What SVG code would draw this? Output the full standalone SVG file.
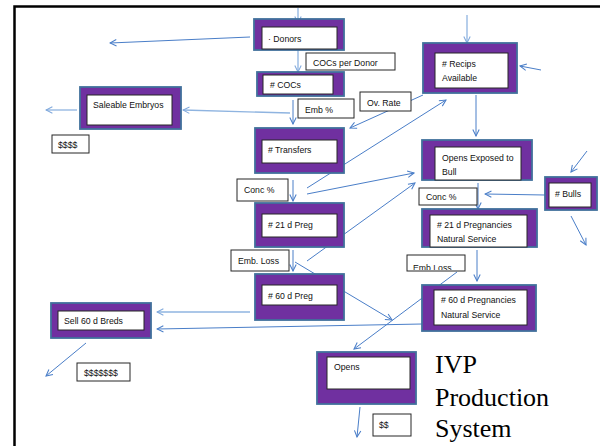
<svg xmlns="http://www.w3.org/2000/svg" width="600" height="446" viewBox="0 0 600 446">
  <defs>
    <style>
      .outer { fill: #7030A0; stroke: #41719C; stroke-width: 1.8; }
      .inner { fill: #FFFFFF; stroke: #262626; stroke-width: 1; }
      .lbl { fill: #FFFFFF; stroke: #262626; stroke-width: 1; }
      .t { font-family: "Liberation Sans", Arial, sans-serif; font-size: 8.7px; fill: #111111; }
      .title { font-family: "Liberation Serif", "Times New Roman", serif; font-size: 26px; fill: #000000; }
      .c { fill: none; stroke: #4A7EC8; stroke-width: 1; marker-end: url(#ah); }
      .cl { fill: none; stroke: #8FB4E0; stroke-width: 1.3; marker-end: url(#ahl); }
    </style>
    <marker id="ah" viewBox="0 0 10 10" refX="9" refY="5" markerWidth="8" markerHeight="8" markerUnits="userSpaceOnUse" orient="auto">
      <path d="M1,1 L9,5 L1,9" fill="none" stroke="#4A7EC8" stroke-width="1.3"/>
    </marker>
    <marker id="ahl" viewBox="0 0 10 10" refX="9" refY="5" markerWidth="8" markerHeight="8" markerUnits="userSpaceOnUse" orient="auto">
      <path d="M1,1 L9,5 L1,9" fill="none" stroke="#7FA8DC" stroke-width="1.3"/>
    </marker>
    <clipPath id="clipEmbLoss">
      <rect x="408" y="256" width="56" height="14"/>
    </clipPath>
  </defs>

  <!-- frame -->
  <rect x="14.5" y="6.5" width="600" height="460" fill="#FFFFFF" stroke="#000000" stroke-width="2.5"/>

  <!-- connectors -->
  <g id="connectors">
    <line class="cl" x1="298" y1="8" x2="298" y2="23"/>
    <line class="c" x1="250" y1="37" x2="110" y2="43"/>
    <line class="cl" x1="298" y1="50" x2="298" y2="72"/>
    <line class="cl" x1="290" y1="113" x2="183" y2="110"/>
    <line class="cl" x1="77" y1="110" x2="46" y2="110"/>
    <line class="c" x1="293" y1="100" x2="293" y2="124"/>
    <line class="c" x1="423" y1="95" x2="350" y2="128"/>
    <line class="c" x1="307" y1="188" x2="446" y2="100"/>
    <line class="c" x1="307" y1="194" x2="414" y2="173"/>
    <line class="c" x1="307" y1="261" x2="415" y2="183"/>
    <line class="c" x1="293" y1="180" x2="293" y2="201"/>
    <line class="c" x1="293" y1="250" x2="293" y2="271"/>
    <line class="c" x1="295" y1="262" x2="392" y2="320"/>
    <line class="c" x1="457" y1="272" x2="354" y2="349"/>
    <line class="cl" x1="250" y1="312" x2="157" y2="312"/>
    <line class="c" x1="422" y1="324" x2="157" y2="329"/>
    <line class="c" x1="86" y1="343" x2="46" y2="376"/>
    <line class="c" x1="360" y1="407" x2="357" y2="437"/>
    <line class="cl" x1="467" y1="15" x2="467" y2="43"/>
    <line class="c" x1="541" y1="70" x2="520" y2="66"/>
    <line class="c" x1="476" y1="95" x2="476" y2="136"/>
    <line class="c" x1="587" y1="151" x2="571" y2="172"/>
    <line class="c" x1="545" y1="195" x2="485" y2="194"/>
    <line class="c" x1="478" y1="183" x2="478" y2="209"/>
    <line class="c" x1="571" y1="216" x2="586" y2="245"/>
    <line class="c" x1="477" y1="250" x2="477" y2="281"/>
  </g>

  <!-- nodes -->
  <g id="donors">
    <rect class="outer" x="254" y="19" width="90" height="31"/>
    <rect class="inner" x="262" y="27" width="75" height="22"/>
    <text class="t" x="268" y="42">· Donors</text>
  </g>
  <g id="cocs">
    <rect class="outer" x="257" y="72" width="87" height="24"/>
    <rect class="inner" x="263" y="75" width="70" height="19"/>
    <text class="t" x="270" y="88">#  COCs</text>
  </g>
  <g id="transfers">
    <rect class="outer" x="255" y="128" width="89" height="45"/>
    <rect class="inner" x="262" y="140" width="75" height="23"/>
    <text class="t" x="268" y="153"># Transfers</text>
  </g>
  <g id="preg21">
    <rect class="outer" x="255" y="203" width="89" height="44"/>
    <rect class="inner" x="262" y="214" width="75" height="23"/>
    <text class="t" x="268" y="228"># 21 d Preg</text>
  </g>
  <g id="preg60">
    <rect class="outer" x="255" y="274" width="89" height="46"/>
    <rect class="inner" x="262" y="285" width="75" height="20"/>
    <text class="t" x="268" y="299"># 60 d Preg</text>
  </g>
  <g id="recips">
    <rect class="outer" x="423" y="43" width="94" height="50"/>
    <rect class="inner" x="435" y="53" width="73" height="35"/>
    <text class="t" x="442" y="67"># Recips</text>
    <text class="t" x="442" y="81">Available</text>
  </g>
  <g id="opens-exposed">
    <rect class="outer" x="422" y="140" width="110" height="40"/>
    <rect class="inner" x="435" y="147" width="86" height="33"/>
    <text class="t" x="442" y="161">Opens Exposed to</text>
    <text class="t" x="442" y="175">Bull</text>
  </g>
  <g id="bulls">
    <rect class="outer" x="545" y="177" width="52" height="33"/>
    <rect class="inner" x="549" y="183" width="42" height="24"/>
    <text class="t" x="555" y="197"># Bulls</text>
  </g>
  <g id="preg21-ns">
    <rect class="outer" x="422" y="209" width="115" height="38"/>
    <rect class="inner" x="430" y="215" width="97" height="32"/>
    <text class="t" x="437" y="228"># 21 d Pregnancies</text>
    <text class="t" x="437" y="242">Natural Service</text>
  </g>
  <g id="preg60-ns">
    <rect class="outer" x="422" y="285" width="114" height="46"/>
    <rect class="inner" x="434" y="290" width="93" height="35"/>
    <text class="t" x="441" y="303"># 60 d Pregnancies</text>
    <text class="t" x="441" y="318">Natural Service</text>
  </g>
  <g id="opens">
    <rect class="outer" x="317" y="352" width="99" height="52"/>
    <rect class="inner" x="327" y="357" width="83" height="32"/>
    <text class="t" x="334" y="370">Opens</text>
  </g>
  <g id="saleable-embryos">
    <rect class="outer" x="80" y="87" width="101" height="42"/>
    <rect class="inner" x="87" y="95" width="85" height="30"/>
    <text class="t" x="93" y="108">Saleable Embryos</text>
  </g>
  <g id="sell-breds">
    <rect class="outer" x="51" y="303" width="100" height="35"/>
    <rect class="inner" x="58" y="311" width="86" height="19"/>
    <text class="t" x="64" y="324">Sell 60 d Breds</text>
  </g>

  <!-- rate labels -->
  <g id="label-cocs-per-donor">
    <rect class="lbl" x="306" y="53" width="89" height="17"/>
    <text class="t" x="313" y="66">COCs per Donor</text>
  </g>
  <g id="label-emb-pct">
    <rect class="lbl" x="298" y="99" width="56" height="19"/>
    <text class="t" x="305" y="113">Emb %</text>
  </g>
  <g id="label-ov-rate">
    <rect class="lbl" x="360" y="92" width="51" height="19"/>
    <text class="t" x="367" y="106">Ov. Rate</text>
  </g>
  <g id="label-conc-left">
    <rect class="lbl" x="237" y="179" width="51" height="22"/>
    <text class="t" x="244" y="193">Conc %</text>
  </g>
  <g id="label-emb-loss-left">
    <rect class="lbl" x="231" y="250" width="58" height="21"/>
    <text class="t" x="238" y="264">Emb. Loss</text>
  </g>
  <g id="label-conc-right">
    <rect class="lbl" x="419" y="188" width="58" height="17"/>
    <text class="t" x="426" y="200">Conc %</text>
  </g>
  <g id="label-emb-loss-right">
    <rect class="lbl" x="407" y="255" width="58" height="16"/>
    <text class="t" x="413" y="271" clip-path="url(#clipEmbLoss)">Emb Loss</text>
  </g>
  <g id="label-4d">
    <rect class="lbl" x="52" y="135" width="37" height="18"/>
    <text class="t" x="58" y="148">$$$$</text>
  </g>
  <g id="label-7d">
    <rect class="lbl" x="77" y="363" width="53" height="18"/>
    <text class="t" x="84" y="376">$$$$$$$</text>
  </g>
  <g id="label-2d">
    <rect class="lbl" x="373" y="414" width="38" height="22"/>
    <text class="t" x="379" y="428">$$</text>
  </g>

  <!-- title -->
  <g id="title">
    <text class="title" x="435" y="373">IVP</text>
    <text class="title" x="435" y="406">Production</text>
    <text class="title" x="435" y="437">System</text>
  </g>
</svg>
